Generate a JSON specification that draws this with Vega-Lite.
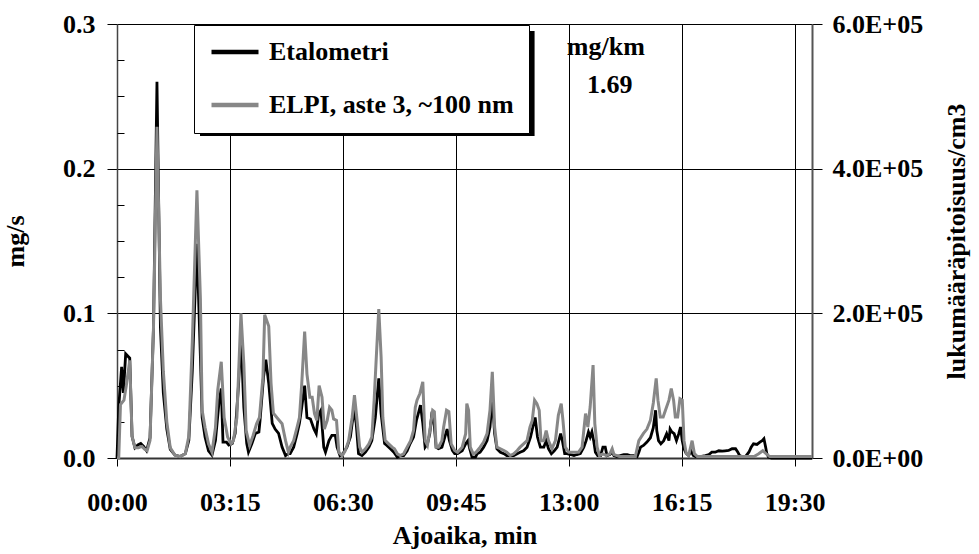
{
  "$schema": "https://vega.github.io/schema/vega-lite/v6.json",
  "autosize": {"type": "none"},
  "padding": {"left": 117, "top": 24, "right": 167, "bottom": 96},
  "width": 695,
  "height": 434,
  "background": "white",
  "config": {
    "font": "Liberation Serif",
    "view": {"stroke": null},
    "axis": {
      "labelFont": "Liberation Serif", "labelFontWeight": "bold", "labelFontSize": 26, "labelColor": "#000",
      "titleFont": "Liberation Serif", "titleFontWeight": "bold", "titleFontSize": 26, "titleColor": "#000",
      "tickColor": "#000", "domainColor": "#444", "gridColor": "#000", "gridWidth": 1, "gridOpacity": 1
    },
    "legend": {
      "labelFont": "Liberation Serif", "labelFontWeight": "bold", "labelFontSize": 26, "labelColor": "#000"
    }
  },
  "datasets": {
    "eta": [
      {"t":0,"v":0},{"t":3,"v":0.035},{"t":8,"v":0.063},{"t":11,"v":0.045},{"t":15,"v":0.072},{"t":22,"v":0.069},{"t":26,"v":0.015},{"t":31,"v":0.007},{"t":36,"v":0.009},{"t":41,"v":0.01},{"t":46,"v":0.008},{"t":51,"v":0.005},{"t":57,"v":0.014},{"t":63,"v":0.09},{"t":69,"v":0.26},{"t":75,"v":0.09},{"t":80,"v":0.045},{"t":86,"v":0.02},{"t":92,"v":0.006},{"t":100,"v":0.002},{"t":109,"v":0.001},{"t":118,"v":0.003},{"t":124,"v":0.012},{"t":130,"v":0.06},{"t":138,"v":0.148},{"t":144,"v":0.07},{"t":147,"v":0.028},{"t":152,"v":0.0145},{"t":158,"v":0.005},{"t":164,"v":0.002},{"t":170,"v":0.012},{"t":176,"v":0.038},{"t":180,"v":0.048},{"t":183,"v":0.011},{"t":189,"v":0.011},{"t":193,"v":0.009},{"t":199,"v":0.01},{"t":204,"v":0.017},{"t":210,"v":0.0515},{"t":214,"v":0.085},{"t":219,"v":0.035},{"t":224,"v":0.01},{"t":227,"v":0.004},{"t":233,"v":0.01},{"t":239,"v":0.017},{"t":245,"v":0.018},{"t":247,"v":0.026},{"t":253,"v":0.056},{"t":257,"v":0.068},{"t":262,"v":0.0515},{"t":268,"v":0.024},{"t":273,"v":0.02},{"t":279,"v":0.017},{"t":285,"v":0.0075},{"t":291,"v":0.0017},{"t":296,"v":0.003},{"t":299,"v":0.003},{"t":305,"v":0.0075},{"t":311,"v":0.0168},{"t":315,"v":0.024},{"t":319,"v":0.035},{"t":324,"v":0.05},{"t":328,"v":0.028},{"t":334,"v":0.027},{"t":340,"v":0.02},{"t":344,"v":0.0168},{"t":348,"v":0.03},{"t":352,"v":0.033},{"t":357,"v":0.0075},{"t":360,"v":0.004},{"t":366,"v":0.012},{"t":371,"v":0.0156},{"t":377,"v":0.0156},{"t":380,"v":0.0075},{"t":385,"v":0.0017},{"t":390,"v":0.003},{"t":397,"v":0.0075},{"t":403,"v":0.0145},{"t":409,"v":0.033},{"t":413,"v":0.024},{"t":417,"v":0.003},{"t":423,"v":0.0017},{"t":429,"v":0.004},{"t":435,"v":0.0075},{"t":440,"v":0.012},{"t":446,"v":0.028},{"t":452,"v":0.055},{"t":456,"v":0.0307},{"t":462,"v":0.01},{"t":466,"v":0.0087},{"t":472,"v":0.0064},{"t":478,"v":0.004},{"t":484,"v":0.0006},{"t":489,"v":0.0017},{"t":495,"v":0.0017},{"t":501,"v":0.005},{"t":506,"v":0.0098},{"t":512,"v":0.0145},{"t":517,"v":0.026},{"t":521,"v":0.0318},{"t":524,"v":0.0365},{"t":528,"v":0.024},{"t":532,"v":0.0075},{"t":536,"v":0.0098},{"t":540,"v":0.0168},{"t":544,"v":0.032},{"t":548,"v":0.0214},{"t":551,"v":0.0075},{"t":555,"v":0.0064},{"t":561,"v":0.0075},{"t":566,"v":0.0145},{"t":570,"v":0.02},{"t":574,"v":0.012},{"t":579,"v":0.0052},{"t":583,"v":0.003},{"t":588,"v":0.003},{"t":596,"v":0.005},{"t":602,"v":0.0098},{"t":606,"v":0.012},{"t":609,"v":0.0064},{"t":613,"v":0.0006},{"t":619,"v":0.0006},{"t":622,"v":0.003},{"t":627,"v":0.004},{"t":633,"v":0.0075},{"t":639,"v":0.012},{"t":644,"v":0.0214},{"t":648,"v":0.042},{"t":652,"v":0.0168},{"t":656,"v":0.0064},{"t":662,"v":0.004},{"t":668,"v":0.003},{"t":673,"v":0.0017},{"t":679,"v":0.0017},{"t":685,"v":0.0017},{"t":691,"v":0.003},{"t":696,"v":0.004},{"t":702,"v":0.005},{"t":708,"v":0.0075},{"t":714,"v":0.0145},{"t":718,"v":0.0214},{"t":722,"v":0.028},{"t":726,"v":0.0145},{"t":731,"v":0.0075},{"t":737,"v":0.0075},{"t":741,"v":0.012},{"t":745,"v":0.0064},{"t":750,"v":0.003},{"t":755,"v":0.005},{"t":760,"v":0.0075},{"t":766,"v":0.0168},{"t":769,"v":0.012},{"t":773,"v":0.003},{"t":777,"v":0.003},{"t":783,"v":0.0024},{"t":789,"v":0.0017},{"t":794,"v":0.0024},{"t":800,"v":0.003},{"t":806,"v":0.0075},{"t":810,"v":0.012},{"t":814,"v":0.018},{"t":817,"v":0.0145},{"t":820,"v":0.018},{"t":823,"v":0.012},{"t":826,"v":0.004},{"t":830,"v":0.0017},{"t":835,"v":0.0017},{"t":839,"v":0.0075},{"t":843,"v":0.0075},{"t":846,"v":0.0017},{"t":851,"v":0.0024},{"t":855,"v":0.004},{"t":858,"v":0.0017},{"t":863,"v":0.001},{"t":869,"v":0.0017},{"t":875,"v":0.0024},{"t":881,"v":0.0024},{"t":886,"v":0.0017},{"t":892,"v":0.0017},{"t":898,"v":0.001},{"t":901,"v":0.004},{"t":904,"v":0.0075},{"t":909,"v":0.0087},{"t":915,"v":0.011},{"t":921,"v":0.014},{"t":926,"v":0.021},{"t":930,"v":0.033},{"t":932,"v":0.019},{"t":935,"v":0.012},{"t":939,"v":0.0098},{"t":944,"v":0.012},{"t":949,"v":0.0168},{"t":953,"v":0.012},{"t":955,"v":0.02},{"t":958,"v":0.018},{"t":962,"v":0.0168},{"t":966,"v":0.012},{"t":970,"v":0.0168},{"t":973,"v":0.0214},{"t":976,"v":0.012},{"t":979,"v":0.0064},{"t":983,"v":0.003},{"t":987,"v":0.0017},{"t":991,"v":0.005},{"t":995,"v":0.0017},{"t":999,"v":0.001},{"t":1007,"v":0.001},{"t":1016,"v":0.0017},{"t":1022,"v":0.0024},{"t":1027,"v":0.004},{"t":1033,"v":0.004},{"t":1039,"v":0.005},{"t":1045,"v":0.0047},{"t":1050,"v":0.005},{"t":1056,"v":0.0052},{"t":1062,"v":0.0064},{"t":1068,"v":0.0064},{"t":1072,"v":0.004},{"t":1075,"v":0.0017},{"t":1079,"v":0.001},{"t":1085,"v":0.001},{"t":1091,"v":0.004},{"t":1095,"v":0.0075},{"t":1099,"v":0.0098},{"t":1105,"v":0.0094},{"t":1110,"v":0.011},{"t":1114,"v":0.012},{"t":1117,"v":0.0133},{"t":1120,"v":0.0075},{"t":1122,"v":0.003},{"t":1125,"v":0.0006},{"t":1130,"v":0},{"t":1200,"v":0}
    ],
    "elpi": [
      {"t":0,"n":0},{"t":3,"n":0},{"t":6,"n":74000},{"t":12,"n":80000},{"t":16,"n":100000},{"t":22,"n":135000},{"t":26,"n":30000},{"t":31,"n":14000},{"t":37,"n":14000},{"t":43,"n":16000},{"t":48,"n":12000},{"t":52,"n":10000},{"t":57,"n":24000},{"t":63,"n":180000},{"t":69,"n":458000},{"t":75,"n":220000},{"t":80,"n":120000},{"t":86,"n":50000},{"t":92,"n":14000},{"t":100,"n":4000},{"t":109,"n":2000},{"t":118,"n":6000},{"t":124,"n":30000},{"t":130,"n":160000},{"t":138,"n":370000},{"t":144,"n":220000},{"t":147,"n":66000},{"t":152,"n":42000},{"t":158,"n":19600},{"t":164,"n":8000},{"t":170,"n":42000},{"t":174,"n":94000},{"t":180,"n":133000},{"t":185,"n":56000},{"t":191,"n":29000},{"t":197,"n":19600},{"t":201,"n":24000},{"t":207,"n":56000},{"t":214,"n":200000},{"t":219,"n":130000},{"t":223,"n":38000},{"t":229,"n":17400},{"t":235,"n":31200},{"t":241,"n":47400},{"t":246,"n":56000},{"t":252,"n":112000},{"t":255,"n":198000},{"t":262,"n":182000},{"t":266,"n":103000},{"t":270,"n":62000},{"t":276,"n":56000},{"t":285,"n":47400},{"t":291,"n":24000},{"t":296,"n":8000},{"t":299,"n":15000},{"t":305,"n":24000},{"t":311,"n":42800},{"t":315,"n":56000},{"t":319,"n":103000},{"t":324,"n":174800},{"t":328,"n":116000},{"t":333,"n":84000},{"t":337,"n":84000},{"t":341,"n":61400},{"t":345,"n":52000},{"t":349,"n":100000},{"t":354,"n":84000},{"t":358,"n":40000},{"t":363,"n":52000},{"t":367,"n":70000},{"t":371,"n":66000},{"t":374,"n":54000},{"t":379,"n":52000},{"t":383,"n":8000},{"t":389,"n":3400},{"t":394,"n":10000},{"t":400,"n":24000},{"t":406,"n":56000},{"t":410,"n":86800},{"t":414,"n":56000},{"t":419,"n":15000},{"t":423,"n":8000},{"t":429,"n":12800},{"t":435,"n":19600},{"t":440,"n":29000},{"t":444,"n":80000},{"t":448,"n":144000},{"t":452,"n":206000},{"t":456,"n":140000},{"t":459,"n":56000},{"t":463,"n":24400},{"t":469,"n":19600},{"t":475,"n":15000},{"t":479,"n":12800},{"t":484,"n":5800},{"t":489,"n":3400},{"t":495,"n":5800},{"t":501,"n":15000},{"t":507,"n":24000},{"t":512,"n":38000},{"t":515,"n":70000},{"t":518,"n":80000},{"t":523,"n":89200},{"t":528,"n":105400},{"t":532,"n":24000},{"t":536,"n":17400},{"t":541,"n":42800},{"t":545,"n":66000},{"t":548,"n":64000},{"t":551,"n":15000},{"t":555,"n":15000},{"t":561,"n":24000},{"t":564,"n":42800},{"t":569,"n":66000},{"t":573,"n":64000},{"t":577,"n":19600},{"t":583,"n":10400},{"t":588,"n":8000},{"t":596,"n":15000},{"t":602,"n":33600},{"t":604,"n":75200},{"t":607,"n":66000},{"t":610,"n":15000},{"t":615,"n":5800},{"t":620,"n":8000},{"t":627,"n":15000},{"t":633,"n":22000},{"t":639,"n":33600},{"t":644,"n":66000},{"t":648,"n":119200},{"t":652,"n":42800},{"t":656,"n":15000},{"t":662,"n":12800},{"t":668,"n":10400},{"t":673,"n":8000},{"t":679,"n":3400},{"t":685,"n":5800},{"t":691,"n":10400},{"t":696,"n":15000},{"t":702,"n":19600},{"t":708,"n":24000},{"t":713,"n":42800},{"t":717,"n":52000},{"t":721,"n":80000},{"t":725,"n":75200},{"t":729,"n":66000},{"t":732,"n":24000},{"t":737,"n":24000},{"t":741,"n":38000},{"t":745,"n":24000},{"t":751,"n":12800},{"t":757,"n":24000},{"t":762,"n":59000},{"t":767,"n":75200},{"t":770,"n":52000},{"t":774,"n":15000},{"t":780,"n":8000},{"t":786,"n":8000},{"t":791,"n":8000},{"t":797,"n":8000},{"t":803,"n":15000},{"t":809,"n":61400},{"t":813,"n":42800},{"t":817,"n":70800},{"t":822,"n":128400},{"t":825,"n":47600},{"t":829,"n":15000},{"t":833,"n":3400},{"t":839,"n":5800},{"t":845,"n":3400},{"t":851,"n":5800},{"t":855,"n":12800},{"t":858,"n":4800},{"t":863,"n":3400},{"t":869,"n":2000},{"t":875,"n":2000},{"t":886,"n":2000},{"t":895,"n":2000},{"t":901,"n":24000},{"t":909,"n":34000},{"t":915,"n":40000},{"t":921,"n":52000},{"t":926,"n":76000},{"t":931,"n":110000},{"t":934,"n":80000},{"t":938,"n":56800},{"t":943,"n":56800},{"t":947,"n":66000},{"t":953,"n":80000},{"t":957,"n":96000},{"t":961,"n":80000},{"t":964,"n":56800},{"t":968,"n":56800},{"t":972,"n":82000},{"t":976,"n":80000},{"t":979,"n":24000},{"t":983,"n":6000},{"t":987,"n":3400},{"t":993,"n":24000},{"t":997,"n":6000},{"t":1002,"n":2000},{"t":1030,"n":2000},{"t":1060,"n":2000},{"t":1080,"n":2000},{"t":1100,"n":2000},{"t":1108,"n":5800},{"t":1115,"n":10000},{"t":1121,"n":5800},{"t":1127,"n":2000},{"t":1200,"n":2000}
    ],
    "notes": [
      {"label": "mg/km", "t": 844, "y": 0.2841},
      {"label": "1.69", "t": 851, "y": 0.2578}
    ]
  },
  "layer": [
    {
      "data": {"values": [{}]},
      "mark": {"type": "rect", "color": "#000"},
      "encoding": {
        "x": {"datum": 143.3, "type": "quantitative", "scale": {"domain": [0, 1200]}},
        "x2": {"datum": 721},
        "y": {"datum": 0.2952, "type": "quantitative", "scale": {"domain": [0, 0.3]}, "axis": null},
        "y2": {"datum": 0.2226}
      }
    },
    {
      "data": {"name": "eta"},
      "mark": {"type": "line", "strokeWidth": 2.8, "interpolate": "linear"},
      "encoding": {
        "x": {
          "field": "t", "type": "quantitative",
          "scale": {"domain": [0, 1200], "nice": false, "zero": false},
          "axis": {
            "values": [0, 195, 390, 585, 780, 975, 1170],
            "labelExpr": "(floor(datum.value/60) < 10 ? '0' : '') + floor(datum.value/60) + ':' + (datum.value % 60 < 10 ? '0' : '') + (datum.value % 60)",
            "labelFlush": false,
            "grid": true, "tickSize": 8, "domainWidth": 2, "domainColor": "#333",
            "labelPadding": 23, "title": "Ajoaika, min", "titlePadding": 7
          }
        },
        "y": {
          "field": "v", "type": "quantitative",
          "scale": {"domain": [0, 0.3], "nice": false},
          "axis": {
            "orient": "left", "values": [0, 0.1, 0.2, 0.3], "format": ".1f",
            "grid": true, "tickSize": 10, "domainWidth": 1.5, "domainColor": "#444",
            "labelPadding": 12, "title": "mg/s", "titlePadding": 34
          }
        },
        "color": {
          "datum": "Etalometri", "type": "nominal",
          "scale": {"domain": ["Etalometri", "ELPI, aste 3, ~100 nm"], "range": ["#000000", "#878787"]},
          "legend": {
            "title": null, "orient": "none", "legendX": 77, "legendY": 1,
            "symbolType": "stroke", "symbolSize": 2209, "symbolStrokeWidth": 4.5,
            "clipHeight": 24, "labelLimit": 500,
            "labelOffset": 8, "rowPadding": 27, "padding": 15,
            "fillColor": "white", "strokeColor": "#000"
          }
        }
      }
    },
    {
      "data": {"name": "elpi"},
      "mark": {"type": "line", "strokeWidth": 3, "interpolate": "linear"},
      "encoding": {
        "x": {"field": "t", "type": "quantitative"},
        "y": {
          "field": "n", "type": "quantitative",
          "scale": {"domain": [0, 600000], "nice": false},
          "axis": {
            "orient": "right", "values": [0, 200000, 400000, 600000],
            "labelExpr": "datum.value == 0 ? '0.0E+00' : format(datum.value/100000, '.1f') + 'E+05'",
            "grid": false, "tickSize": 10, "domainWidth": 2, "domainColor": "#555",
            "labelPadding": 10, "title": "lukumääräpitoisuus/cm3", "titleAngle": -90, "titlePadding": 47
          }
        },
        "color": {"datum": "ELPI, aste 3, ~100 nm", "type": "nominal"}
      }
    },
    {
      "data": {"name": "notes"},
      "mark": {"type": "text", "font": "Liberation Serif", "fontWeight": "bold", "fontSize": 26, "color": "#000"},
      "encoding": {
        "x": {"field": "t", "type": "quantitative"},
        "y": {
          "field": "y", "type": "quantitative",
          "scale": {"domain": [0, 0.3], "nice": false},
          "axis": {
            "orient": "left", "values": [0.025, 0.05, 0.075, 0.125, 0.15, 0.175, 0.225, 0.25, 0.275],
            "labels": false, "grid": false, "domain": false, "tickSize": -7, "title": null
          }
        },
        "text": {"field": "label"}
      }
    }
  ],
  "resolve": {"scale": {"y": "independent"}, "axis": {"y": "independent"}}
}
